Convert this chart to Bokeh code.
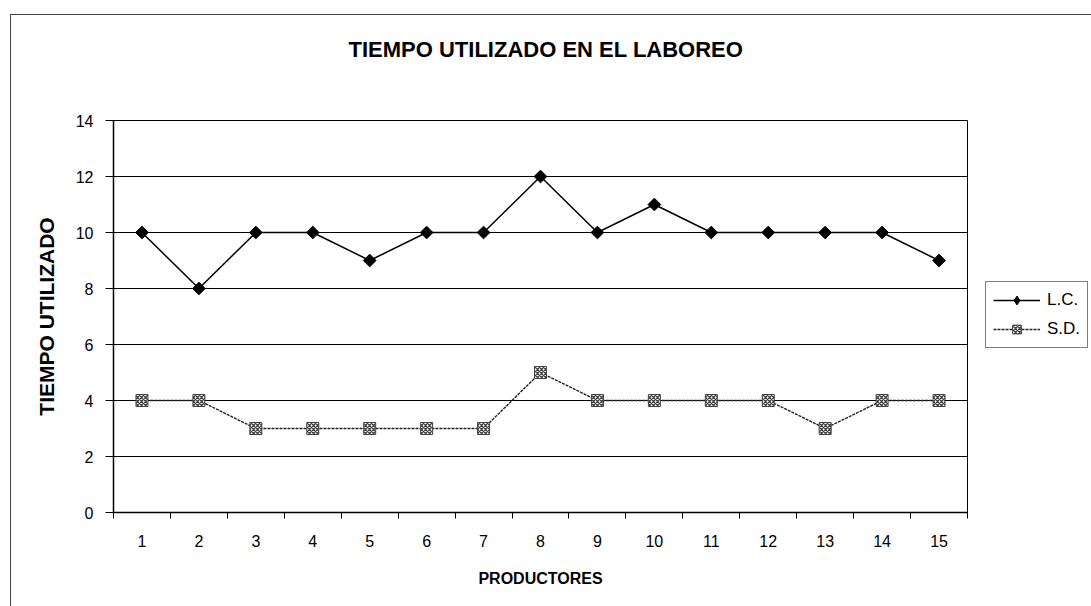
import math
from bokeh.plotting import figure
from bokeh.layouts import row
from bokeh.models import FixedTicker, Legend, LegendItem, Range1d, Title
from bokeh.embed import file_html
from bokeh.resources import INLINE

productores = list(range(1, 16))
lc = [10, 8, 10, 10, 9, 10, 10, 12, 10, 11, 10, 10, 10, 10, 9]
sd = [4, 4, 3, 3, 3, 3, 3, 5, 4, 4, 4, 4, 3, 4, 4]
y_ticks = [0, 2, 4, 6, 8, 10, 12, 14]
series_names = ["L.C.", "S.D."]

FONT = "Liberation Sans"

LC_LINE = dict(line_color="black", line_width=1.5)
LC_MARK = dict(marker="square", angle=math.pi / 4, size=9, fill_color="black", line_color="black")
LC_MARK_LEG = dict(marker="diamond", size=13, fill_color="black", line_color="black")
SD_LINE = dict(line_color="#222222", line_width=1.4, line_dash="3 1")
SD_MARK = dict(marker="square", size=12, fill_color="white", line_color="#444444",
               hatch_pattern="x", hatch_color="#444444", hatch_scale=4, hatch_weight=1.3)

p = figure(width=966, height=591, output_backend="svg", toolbar_location=None,
           x_range=Range1d(0.5, 15.5), y_range=Range1d(0, 14),
           min_border_left=102, min_border_right=10, min_border_top=105, min_border_bottom=94,
           title="TIEMPO UTILIZADO EN EL LABOREO")
p.outline_line_color = "black"
p.outline_line_width = 1
p.background_fill_color = "white"
p.border_fill_color = "white"

p.title.align = "left"
p.title.offset = 235
p.title.text_font = FONT
p.title.text_font_size = "22px"
p.title.text_font_style = "bold"
p.title.text_color = "black"
p.title.standoff = 10
spacer = Title(text=" ", text_font_size="1px", standoff=51)
p.add_layout(spacer, "above")

# x axis
p.xaxis.ticker = FixedTicker(ticks=productores, minor_ticks=[i + 0.5 for i in range(0, 16)])
p.xaxis.major_tick_out = 0
p.xaxis.major_tick_in = 0
p.xaxis.minor_tick_out = 6
p.xaxis.minor_tick_in = 0
p.xaxis.minor_tick_line_color = "black"
p.xaxis.axis_line_color = "black"
p.xaxis.axis_line_width = 1.5
p.xaxis.major_label_text_font = FONT
p.xaxis.major_label_text_font_size = "16px"
p.xaxis.major_label_text_color = "black"
p.xaxis.major_label_standoff = 16
p.xaxis.axis_label = "PRODUCTORES"
p.xaxis.axis_label_text_font = FONT
p.xaxis.axis_label_text_font_size = "16px"
p.xaxis.axis_label_text_font_style = "bold"
p.xaxis.axis_label_text_color = "black"
p.xaxis.axis_label_standoff = 20

# y axis
p.yaxis.ticker = FixedTicker(ticks=y_ticks, minor_ticks=[])
p.yaxis.major_tick_out = 8
p.yaxis.major_tick_in = 0
p.yaxis.major_tick_line_color = "black"
p.yaxis.axis_line_color = "black"
p.yaxis.axis_line_width = 1.5
p.yaxis.major_label_text_font = FONT
p.yaxis.major_label_text_font_size = "16px"
p.yaxis.major_label_text_color = "black"
p.yaxis.major_label_standoff = 12
p.yaxis.axis_label = "TIEMPO UTILIZADO"
p.yaxis.axis_label_text_font = FONT
p.yaxis.axis_label_text_font_size = "21px"
p.yaxis.axis_label_text_font_style = "bold"
p.yaxis.axis_label_text_color = "black"
p.yaxis.axis_label_standoff = 15

p.xgrid.grid_line_color = None
p.ygrid.ticker = FixedTicker(ticks=y_ticks)
p.ygrid.grid_line_color = "black"
p.ygrid.grid_line_width = 1

# series
p.line(productores, lc, **LC_LINE)
p.scatter(productores, lc, **LC_MARK)
p.line(productores, sd, **SD_LINE)
p.scatter(productores, sd, **SD_MARK)

# legend panel (separate figure to the right of the plot); its series lie outside its view
lf = figure(width=114, height=591, output_backend="svg", toolbar_location=None,
            x_range=Range1d(100, 101), y_range=Range1d(100, 101),
            x_axis_location=None, y_axis_location=None, min_border=0)
lf.outline_line_color = None
lf.xgrid.grid_line_color = None
lf.ygrid.grid_line_color = None
lf.background_fill_color = "white"
lf.border_fill_color = "white"
r1 = lf.line(productores, lc, **LC_LINE)
r1m = lf.scatter(productores, lc, **LC_MARK_LEG)
r2 = lf.line(productores, sd, **SD_LINE)
r2m = lf.scatter(productores, sd, **SD_MARK)

legend = Legend(items=[LegendItem(label=series_names[0], renderers=[r1, r1m]),
                       LegendItem(label=series_names[1], renderers=[r2, r2m])],
                location=(8, 164))
legend.label_text_font = FONT
legend.label_text_font_size = "17px"
legend.label_text_color = "black"
legend.border_line_color = "black"
legend.border_line_width = 1
legend.glyph_width = 47
legend.glyph_height = 22
legend.spacing = 7
legend.padding = 7
legend.margin = 0
legend.label_standoff = 7
legend.background_fill_color = "white"
lf.add_layout(legend, "center")

layout = row(p, lf)
layout.styles = {"border-left": "1px solid #444444", "border-top": "1px solid #444444",
                 "margin-left": "10px", "margin-top": "14px"}

open("out.html", "w").write(file_html(layout, INLINE))
